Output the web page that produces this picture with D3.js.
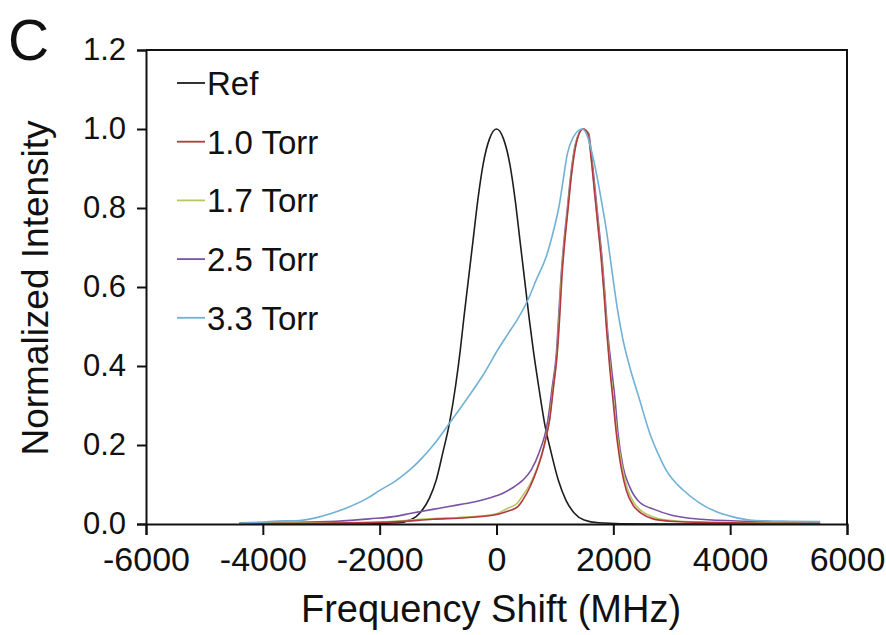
<!DOCTYPE html>
<html>
<head>
<meta charset="utf-8">
<script src="https://cdn.jsdelivr.net/npm/d3@7"></script>
<style>
  body { margin: 0; background: #fff; }
  svg text { font-family: "Liberation Sans", Arial, Helvetica, sans-serif; fill: #111; }
</style>
</head>
<body>
<svg id="chart" width="886" height="635"></svg>
<script>
// values: [frequency shift (MHz), normalized intensity]
var refData = [[-4400,0],[-2500,0],[-1700,0.003],[-1450,0.012],[-1300,0.03],[-1150,0.065],[-1034,0.11],[-920,0.18],
  [-806,0.255],[-700,0.35],[-620,0.44],[-560,0.52],[-480,0.62],[-400,0.72],[-320,0.82],[-230,0.91],[-120,0.975],[0,1.0],
  [120,0.975],[230,0.91],[320,0.82],[400,0.72],[480,0.62],[560,0.52],[630,0.44],[720,0.35],[823,0.255],[937,0.18],
  [1060,0.11],[1190,0.06],[1330,0.028],[1500,0.01],[1750,0.003],[2500,0],[5540,0]];

var torr10 = [[-4400,0.001],[-3000,0.002],[-2000,0.004],[-1663,0.006],[-1091,0.012],[-520,0.016],[-63,0.022],[166,0.031],
  [365,0.044],[451,0.061],[577,0.095],[691,0.137],[783,0.179],[852,0.221],[909,0.263],[977,0.348],[1040,0.432],[1080,0.52],
  [1120,0.626],[1166,0.711],[1223,0.795],[1280,0.879],[1366,0.964],[1480,1.0],[1565,0.989],[1623,0.922],[1680,0.837],
  [1737,0.753],[1794,0.668],[1840,0.584],[1880,0.5],[1937,0.398],[1994,0.314],[2051,0.23],[2137,0.14],[2223,0.085],
  [2337,0.048],[2480,0.027],[2680,0.013],[2966,0.007],[3480,0.004],[4500,0.002],[5540,0.001]];

var torr17 = [[-4400,0.002],[-3000,0.003],[-2200,0.004],[-1663,0.008],[-1091,0.014],[-700,0.016],[-300,0.02],[0,0.026],
  [166,0.038],[350,0.052],[440,0.07],[570,0.1],[685,0.137],[778,0.179],[848,0.221],[905,0.263],[972,0.348],[1035,0.432],
  [1072,0.52],[1112,0.626],[1160,0.711],[1218,0.795],[1275,0.879],[1360,0.964],[1480,1.0],[1565,0.99],[1626,0.922],
  [1685,0.837],[1742,0.753],[1800,0.668],[1846,0.584],[1886,0.5],[1945,0.398],[2003,0.314],[2062,0.23],[2150,0.145],
  [2240,0.09],[2360,0.052],[2510,0.03],[2720,0.016],[3000,0.009],[3500,0.005],[4500,0.003],[5540,0.002]];

var torr25 = [[-4400,0.003],[-3605,0.004],[-2748,0.007],[-2177,0.013],[-1700,0.02],[-1435,0.028],[-1320,0.031],
  [-977,0.04],[-634,0.049],[-348,0.057],[-120,0.066],[108,0.078],[309,0.095],[451,0.111],[595,0.137],[725,0.179],
  [880,0.263],[955,0.348],[1025,0.432],[1062,0.52],[1105,0.626],[1152,0.711],[1210,0.795],[1268,0.879],[1355,0.964],
  [1480,1.0],[1575,0.99],[1635,0.922],[1695,0.837],[1752,0.753],[1810,0.668],[1855,0.584],[1895,0.5],[1966,0.398],
  [2030,0.314],[2080,0.23],[2166,0.145],[2280,0.094],[2450,0.055],[2700,0.037],[3000,0.022],[3500,0.012],[4300,0.007],
  [5540,0.004]];

var torr33 = [[-4400,0.002],[-4100,0.004],[-3891,0.006],[-3605,0.008],[-3377,0.009],[-3034,0.018],[-2806,0.028],
  [-2577,0.04],[-2200,0.066],[-2000,0.085],[-1720,0.11],[-1500,0.135],[-1300,0.163],[-1091,0.198],[-806,0.255],
  [-520,0.314],[-235,0.376],[51,0.448],[200,0.482],[366,0.52],[537,0.567],[680,0.618],[852,0.677],[980,0.745],
  [1080,0.812],[1140,0.87],[1210,0.935],[1310,0.978],[1469,1.0],[1560,0.98],[1650,0.93],[1720,0.88],[1800,0.815],
  [1880,0.745],[1950,0.67],[2010,0.605],[2080,0.535],[2160,0.47],[2280,0.398],[2451,0.314],[2623,0.23],[2760,0.18],
  [2909,0.135],[3194,0.086],[3480,0.053],[3766,0.031],[4051,0.018],[4337,0.01],[4623,0.008],[5000,0.007],[5540,0.006]];

var seriesNames = ["Ref", "1.0 Torr", "1.7 Torr", "2.5 Torr", "3.3 Torr"];
var seriesColors = ["#1e1e1e", "#b5383f", "#b4c763", "#7b53a5", "#71b1d7"];
var seriesData = [refData, torr10, torr17, torr25, torr33];
var drawOrder = [0, 3, 2, 1, 4];

var xTicks = [-6000, -4000, -2000, 0, 2000, 4000, 6000];
var yTicks = [0, 0.2, 0.4, 0.6, 0.8, 1.0, 1.2];

var svg = d3.select("#chart");
// plot box ("top" is taken by window.top, so plotTop etc.)
var plotLeft = 146, plotRight = 847, plotTop = 50, plotBottom = 524;

var x = d3.scaleLinear().domain([-6000, 6000]).range([plotLeft, plotRight]);
var y = d3.scaleLinear().domain([0, 1.2]).range([plotBottom, plotTop]);

// curves
var line = d3.line()
  .x(function (d) { return x(d[0]); })
  .y(function (d) { return y(d[1]); })
  .curve(d3.curveMonotoneX);

drawOrder.forEach(function (i) {
  svg.append("path")
    .datum(seriesData[i])
    .attr("d", line)
    .attr("fill", "none")
    .attr("stroke", seriesColors[i])
    .attr("stroke-width", 1.6);
});

// frame top + right
svg.append("path")
  .attr("d", "M" + plotLeft + "," + plotTop + "H" + plotRight + "V" + plotBottom)
  .attr("fill", "none").attr("stroke", "#111").attr("stroke-width", 2);

// x axis
var xAxis = svg.append("g")
  .attr("transform", "translate(0," + plotBottom + ")")
  .call(d3.axisBottom(x).tickValues(xTicks).tickSize(11).tickPadding(12).tickFormat(d3.format("d")));
xAxis.select(".domain").attr("stroke", "#111").attr("stroke-width", 2);
xAxis.selectAll(".tick line").attr("stroke", "#111").attr("stroke-width", 2);
xAxis.selectAll(".tick text").attr("font-size", 34).attr("font-family", null).attr("fill", "#111")
  .text(function (d) { return d < 0 ? "-" + Math.abs(d) : d; });

// y axis
var yAxis = svg.append("g")
  .attr("transform", "translate(" + plotLeft + ",0)")
  .call(d3.axisLeft(y).tickValues(yTicks).tickSize(9).tickPadding(11).tickFormat(d3.format(".1f")));
yAxis.select(".domain").attr("stroke", "#111").attr("stroke-width", 2);
yAxis.selectAll(".tick line").attr("stroke", "#111").attr("stroke-width", 2);
yAxis.selectAll(".tick text").attr("font-size", 31).attr("font-family", null).attr("fill", "#111");

// titles
svg.append("text")
  .attr("x", 491).attr("y", 622)
  .attr("text-anchor", "middle").attr("font-size", 38)
  .text("Frequency Shift (MHz)");

svg.append("text")
  .attr("transform", "translate(48,288) rotate(-90)")
  .attr("text-anchor", "middle").attr("font-size", 37)
  .text("Normalized Intensity");

svg.append("text")
  .attr("x", 8).attr("y", 60)
  .attr("font-size", 57)
  .text("C");

// legend
var legend = svg.append("g");
seriesNames.forEach(function (name, i) {
  var ly = 83 + i * 58.7;
  legend.append("line")
    .attr("x1", 177).attr("x2", 205).attr("y1", ly).attr("y2", ly)
    .attr("stroke", seriesColors[i]).attr("stroke-width", 1.8);
  legend.append("text")
    .attr("x", 207).attr("y", ly + 12)
    .attr("font-size", 33)
    .text(name);
});
</script>
</body>
</html>
